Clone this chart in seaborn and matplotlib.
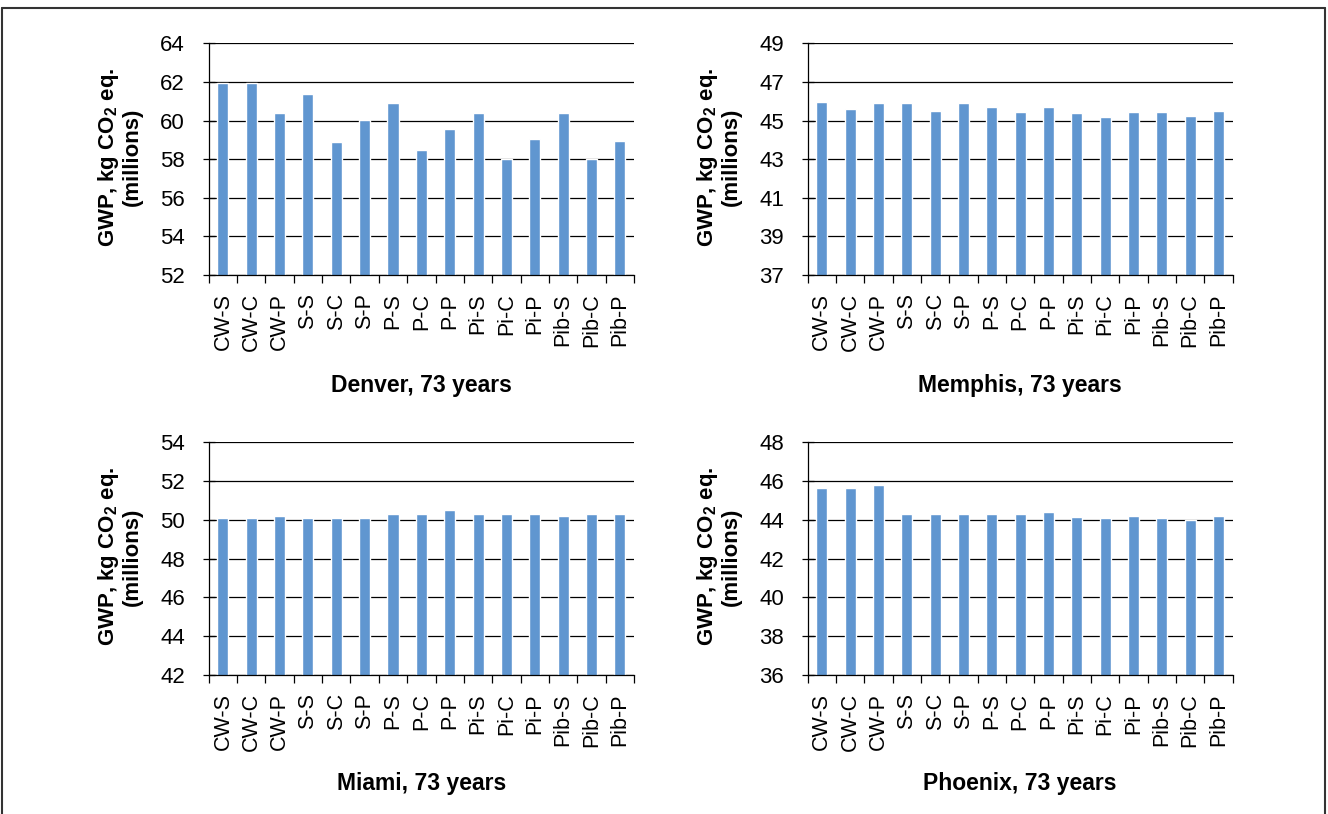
import matplotlib
matplotlib.use("Agg")
import matplotlib.pyplot as plt
from matplotlib.lines import Line2D
from matplotlib.ticker import FixedLocator
import seaborn as sns
import pandas as pd
import numpy as np

# --- data ---
configs = ["CW-S", "CW-C", "CW-P", "S-S", "S-C", "S-P", "P-S", "P-C", "P-P",
           "Pi-S", "Pi-C", "Pi-P", "Pib-S", "Pib-C", "Pib-P"]

denver = [61.95, 61.95, 60.4, 61.4, 58.9, 60.05, 60.9, 58.45, 59.55,
          60.4, 58.0, 59.05, 60.4, 58.0, 58.95]
memphis = [45.96, 45.6, 45.91, 45.91, 45.5, 45.91, 45.7, 45.44, 45.7,
           45.39, 45.18, 45.44, 45.44, 45.23, 45.5]
miami = [50.12, 50.12, 50.2, 50.12, 50.12, 50.12, 50.31, 50.31, 50.51,
         50.31, 50.31, 50.31, 50.2, 50.31, 50.31]
phoenix = [45.65, 45.65, 45.8, 44.31, 44.31, 44.31, 44.31, 44.31, 44.41,
           44.15, 44.1, 44.2, 44.1, 44.0, 44.2]

titles = ["Denver, 73 years", "Memphis, 73 years", "Miami, 73 years", "Phoenix, 73 years"]
ylims = [(52, 64), (37, 49), (42, 54), (36, 48)]

bar_color = "#6096D0"

sns.set_style("white")
plt.rcParams["font.family"] = ["Liberation Sans", "DejaVu Sans"]
plt.rcParams["text.color"] = "black"
plt.rcParams["axes.labelcolor"] = "black"
plt.rcParams["xtick.color"] = "black"
plt.rcParams["ytick.color"] = "black"

fig = plt.figure(figsize=(13.28, 8.14), dpi=100)
W, H = 1328, 814

# axes boxes in pixels: left, top, right, bottom ; title top in pixels
boxes = [(208.7, 43.3, 634, 275), (807.7, 43.3, 1232.7, 275),
         (208.7, 442.3, 634, 675), (807.7, 442.3, 1232.7, 675)]
title_tops = [374, 374, 772, 772]

series = [denver, memphis, miami, phoenix]

for vals, title, ylim, box, ttop in zip(series, titles, ylims, boxes, title_tops):
    l, t, r, b = box
    ax = fig.add_axes([l / W, 1 - b / H, (r - l) / W, (b - t) / H])
    df = pd.DataFrame({"config": configs, "gwp": vals})
    sns.barplot(data=df, x="config", y="gwp", color=bar_color, width=0.39,
                saturation=1, ax=ax, zorder=3)
    ax.set_xlim(-0.5, len(configs) - 0.5)
    ax.set_ylim(*ylim)
    ax.set_yticks(np.arange(ylim[0], ylim[1] + 1, 2))
    ax.grid(axis="y", color="black", linewidth=0.9, zorder=0)
    ax.set_axisbelow(True)
    for s in ["top", "right"]:
        ax.spines[s].set_visible(False)
    for s in ["left", "bottom"]:
        ax.spines[s].set_color("black")
        ax.spines[s].set_linewidth(0.9)
        ax.spines[s].set_zorder(4)

    # category boundaries as tick marks, labels without marks
    ax.xaxis.set_minor_locator(FixedLocator([i - 0.5 for i in range(len(configs) + 1)]))
    ax.tick_params(axis="x", which="minor", length=6, width=0.9, color="black",
                   direction="out", bottom=True)
    ax.tick_params(axis="x", which="major", length=0, pad=13, labelsize=15.5,
                   rotation=90)
    ax.tick_params(axis="y", which="major", length=8, width=0.9, color="black",
                   direction="inout", left=True, labelsize=16, pad=13)

    ax.set_xlabel(title, fontsize=16.5, fontweight="bold", va="top")
    ax.xaxis.set_label_coords(0.5, (b - ttop) / (b - t))
    ax.set_ylabel("GWP, kg CO$_\\mathregular{2}$ eq.\n(millions)", fontsize=16,
                  fontweight="bold", linespacing=1.0, va="center")
    ax.yaxis.set_label_coords(-0.21, 0.51)

# frame around the figure
lw = 1.5
fig.add_artist(Line2D([2 / W, 1325 / W], [1 - 8 / H, 1 - 8 / H], color="#333333", lw=lw,
                      transform=fig.transFigure))
fig.add_artist(Line2D([2 / W, 2 / W], [0, 1 - 8 / H], color="#333333", lw=lw,
                      transform=fig.transFigure))
fig.add_artist(Line2D([1325 / W, 1325 / W], [0, 1 - 8 / H], color="#333333", lw=lw,
                      transform=fig.transFigure))

fig.savefig("out.png", dpi=100)
